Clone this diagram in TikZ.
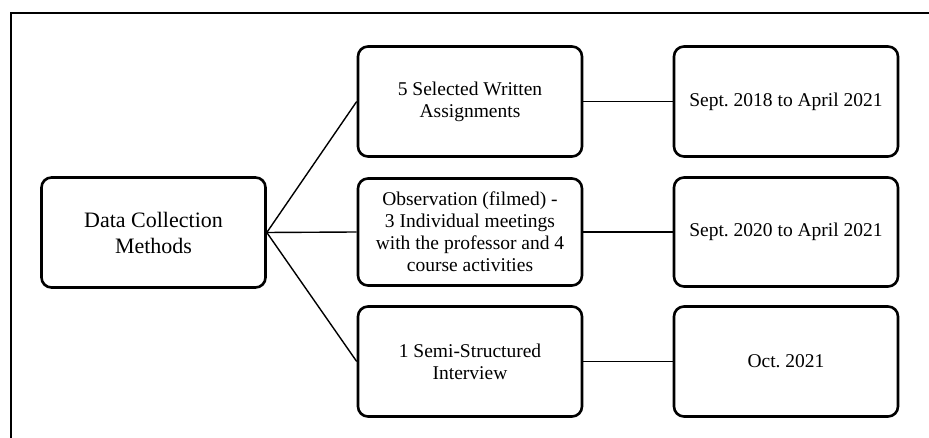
\documentclass[tikz,border=0pt]{standalone}
\usepackage{fontspec}
\setmainfont{Liberation Serif}
\frenchspacing
\begin{document}
\begin{tikzpicture}[x=1pt,y=1pt,
  box/.style={draw, line width=2.6pt, rounded corners=10pt, align=center,
    font=\fontsize{19.5}{22}\selectfont, inner sep=0pt,
    minimum width=224pt},
  bigbox/.style={box, font=\fontsize{22}{26}\selectfont},
  link/.style={line width=1.4pt},
  frame/.style={line width=1.5pt}]
\useasboundingbox (0,0) rectangle (929,438);
\coordinate (fb) at (11,0);
\coordinate (fc) at (11,425);
\coordinate (fr) at (929,425);
\draw[frame] (fb) -- (fc) -- (fr);
\node[bigbox, minimum height=110pt] (L) at (153.5,205.5) {Data Collection\\Methods};
\node[box, minimum height=110pt] (A) at (470,336.5) {5 Selected Written\\Assignments};
\node[box, minimum height=107pt] (B) at (470,206) {Observation (filmed) -\\3 Individual meetings\\with the professor and 4\\course activities};
\node[box, minimum height=110pt] (C) at (470,76.5) {1 Semi-Structured\\Interview};
\node[box, minimum height=110pt] (A2) at (786,336.5) {Sept. 2018 to April 2021};
\node[box, minimum height=109pt] (B2) at (786,206) {Sept. 2020 to April 2021};
\node[box, minimum height=110pt] (C2) at (786,76.5) {Oct. 2021};
\draw[link] (L.east) -- (A.west);
\draw[link] (L.east) -- (B.west);
\draw[link] (L.east) -- (C.west);
\draw[link] (A.east) -- (A2.west);
\draw[link] (B.east) -- (B2.west);
\draw[link] (C.east) -- (C2.west);
\end{tikzpicture}
\end{document}
